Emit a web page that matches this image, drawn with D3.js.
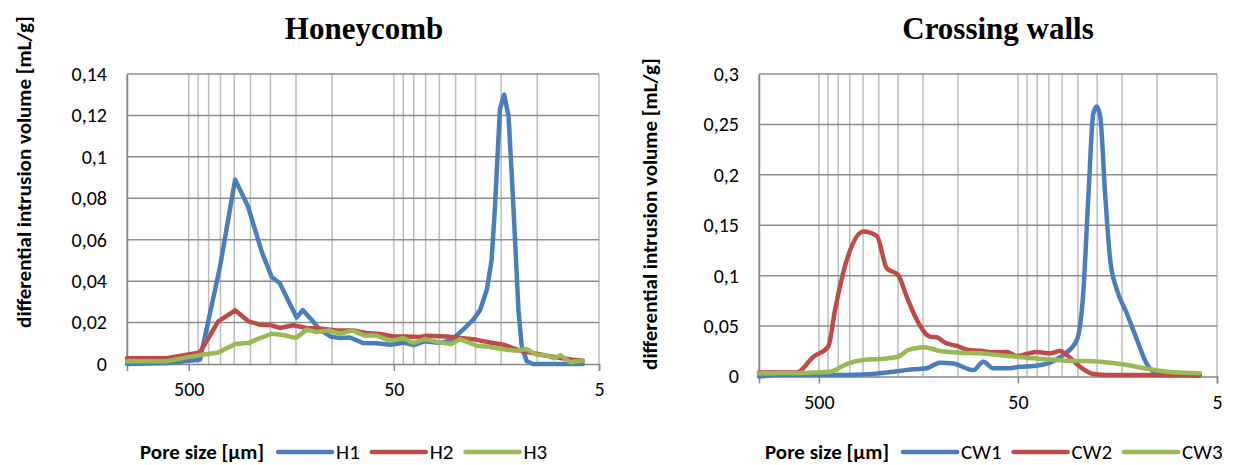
<!DOCTYPE html>
<html>
<head>
<meta charset="utf-8">
<script src="https://cdn.jsdelivr.net/npm/d3@7/dist/d3.min.js"></script>
<style>
  body { margin: 0; background: #fff; }
  svg { display: block; }
  text { font-family: Carlito, Calibri, Lato, sans-serif; fill: #000; }
  .title { font-family: "Liberation Serif", "Times New Roman", serif; font-weight: bold; }
</style>
</head>
<body>
<svg id="chart" width="1238" height="465"></svg>
<script>
// pore size [µm] vs differential intrusion volume [mL/g]
var poreTicks = [500, 50, 5];
var honeyTicks = [0, 0.02, 0.04, 0.06, 0.08, 0.1, 0.12, 0.14];
var crossTicks = [0, 0.05, 0.1, 0.15, 0.2, 0.25, 0.3];

var honeyNames = ['H1', 'H2', 'H3'];
var crossNames = ['CW1', 'CW2', 'CW3'];

var H1 = [[1000,0],[640,0.0005],[441,0.002],[352,0.047],[297,0.089],[257,0.076],[220,0.054],
  [197,0.042],[180,0.039],[149,0.0224],[139,0.026],[126,0.0214],[115,0.0166],[102,0.0133],
  [91.5,0.0125],[82,0.0128],[70.5,0.0101],[60.6,0.010],[52,0.0093],[45,0.0103],[40,0.0091],
  [35.3,0.011],[29.8,0.0101],[26.1,0.0117],[23,0.0166],[20.5,0.0214],[19,0.026],[17.6,0.036],
  [16.7,0.050],[16.1,0.0745],[15.2,0.123],[14.5,0.130],[13.8,0.1196],[13.3,0.0906],[12.8,0.058],
  [12.35,0.026],[11.9,0.0085],[11.25,0.0013],[10.5,0],[6,0]];
var H2 = [[1000,0.0028],[640,0.0028],[441,0.0056],[359,0.0206],[297,0.0259],[256,0.0206],
  [225,0.019],[197,0.0187],[180,0.0174],[155,0.0187],[133,0.0174],[115,0.0172],[95,0.0162],
  [79,0.0162],[68,0.015],[58.4,0.0145],[50.3,0.0133],[43.3,0.0133],[37.3,0.013],[34.6,0.0136],
  [27.6,0.0133],[23.8,0.0126],[20.5,0.012],[17,0.0104],[14.6,0.0093],[13.1,0.0077],[11.7,0.006],
  [10.5,0.0053],[9,0.004],[7.7,0.0029],[6.7,0.0021],[6,0.0016]];
var H3 = [[1000,0.0013],[640,0.0013],[512,0.0032],[441,0.0043],[359,0.0056],[297,0.0097],
  [256,0.0101],[225,0.0125],[197,0.0146],[173,0.014],[150,0.0125],[133,0.0166],[119,0.0154],
  [104,0.0162],[91.5,0.0146],[80,0.0162],[69,0.0137],[60.6,0.0137],[52.2,0.0112],[45,0.0125],
  [40.1,0.0101],[35.3,0.012],[29.8,0.0104],[26.1,0.0097],[23.8,0.012],[19.7,0.0088],[17,0.0082],
  [14.1,0.0069],[12.6,0.0064],[11.25,0.0072],[10.1,0.0045],[9,0.0042],[8.3,0.0028],[7.7,0.0042],
  [6.9,0.0008],[6,0.0017]];

var CW1 = [[1000,0],[784,0.0015],[440,0.0015],[299,0.002],[211,0.0048],[168,0.0071],[144,0.0081],
  [123,0.0137],[106,0.013],[83.7,0.0064],[74.6,0.0147],[66.5,0.0081],[56.9,0.0081],[48.8,0.0097],
  [41.8,0.0104],[34.5,0.0137],[29.6,0.0213],[25.3,0.0362],[23.5,0.0825],[22.1,0.1817],[20.9,0.261],
  [20.1,0.2677],[19.3,0.2577],[18.25,0.1817],[17.2,0.1156],[15.9,0.0858],[14.2,0.0627],[12.6,0.0362],
  [11.3,0.0131],[10.4,0.0048],[8.3,0.003],[6.1,0.0025]];
var CW2 = [[1000,0.004],[646,0.004],[533,0.0196],[449,0.0296],[415,0.066],[362,0.1156],[299,0.1437],
  [256,0.1394],[228,0.1073],[200,0.1007],[181,0.079],[161,0.056],[138,0.0395],[128,0.039],
  [116,0.0335],[101.5,0.0303],[88.8,0.0263],[77.5,0.0256],[66.5,0.024],[56.9,0.0243],[50.7,0.0203],
  [45.2,0.0223],[40.2,0.0243],[34.5,0.023],[30.7,0.0253],[28.4,0.0213],[24.4,0.0097],[20.9,0.0025],
  [17.9,0.0015],[13.2,0.0015],[8.9,0.0012],[6.1,0.001]];
var CW3 = [[1000,0.003],[784,0.0032],[440,0.0048],[356,0.0131],[299,0.0164],[247,0.0174],[200,0.0196],
  [178,0.0263],[149,0.029],[123,0.0253],[97.7,0.0236],[77.5,0.023],[61.5,0.021],[45.2,0.0187],
  [41.8,0.018],[28.4,0.0157],[19.3,0.0147],[14.2,0.0114],[10.8,0.0071],[8.3,0.0041],[6.1,0.0032]];

var colors = ['#4a7ebb', '#be4b48', '#98b954'];

var svg = d3.select('#chart');

// Excel style log gridlines: k * 5, k * 50, k * 500
var gridValues = [];
[5, 50, 500].forEach(function(b) {
  for (var k = 1; k < 10; k++) if (b * k <= 1000) gridValues.push(b * k);
});
gridValues.push(1000);

function commaFmt(v) { return String(+v.toFixed(3)).replace('.', ','); }

function drawChart(o) {
  var g = svg.append('g');
  var x = d3.scaleLog().domain([1000, 5]).range([o.left, o.right]);
  var y = d3.scaleLinear().domain([0, o.yTicks[o.yTicks.length - 1]]).range([o.bottom, o.top]);

  g.selectAll('.vgrid').data(gridValues).enter().append('line')
    .attr('x1', function(d) { return x(d); })
    .attr('x2', function(d) { return x(d); })
    .attr('y1', o.top).attr('y2', o.bottom)
    .attr('stroke', '#bdbdbd').attr('stroke-width', 1.5);

  g.selectAll('.hgrid').data(o.yTicks.slice(1)).enter().append('line')
    .attr('x1', o.left).attr('x2', o.right)
    .attr('y1', function(d) { return y(d); })
    .attr('y2', function(d) { return y(d); })
    .attr('stroke', '#8e8e8e').attr('stroke-width', 1.5);

  // y axis
  var ya = g.append('g').attr('transform', 'translate(' + o.left + ',0)')
    .call(d3.axisLeft(y).tickValues(o.yTicks).tickSize(0).tickPadding(20).tickFormat(commaFmt));
  ya.select('.domain').attr('stroke', '#868686').attr('stroke-width', 1.5);
  ya.selectAll('text').style('font-size', '20px');

  // x axis
  var xa = g.append('g').attr('transform', 'translate(0,' + o.bottom + ')')
    .call(d3.axisBottom(x).tickValues(poreTicks).tickSize(7).tickPadding(11).tickFormat(d3.format('d')));
  xa.select('.domain').attr('stroke', '#868686').attr('stroke-width', 1.5);
  xa.selectAll('line').attr('stroke', '#868686').attr('stroke-width', 1.5);
  xa.selectAll('text').style('font-size', '20px');

  var line = d3.line()
    .x(function(d) { return x(d[0]); })
    .y(function(d) { return y(d[1]); })
    .curve(o.smooth ? d3.curveMonotoneX : d3.curveLinear);

  o.series.forEach(function(s, i) {
    g.append('path').datum(s)
      .attr('d', line)
      .attr('fill', 'none')
      .attr('stroke', colors[i])
      .attr('stroke-width', 4.5)
      .attr('stroke-linejoin', 'round')
      .attr('stroke-linecap', 'round');
  });

  g.append('text').attr('class', 'title')
    .attr('x', o.titleX).attr('y', 39)
    .attr('text-anchor', 'middle')
    .style('font-size', '31px')
    .text(o.title);

  g.append('text')
    .attr('transform', 'translate(' + o.yTitleX + ',' + o.yTitleY + ') rotate(-90)')
    .attr('text-anchor', 'middle')
    .style('font-size', '21px')
    .style('font-weight', 'bold')
    .text('differential intrusion volume [mL/g]');

  // legend
  var ly = 459, cx = o.legendX;
  var lab = g.append('text').attr('x', cx).attr('y', ly)
    .style('font-size', '21px').style('font-weight', 'bold')
    .text('Pore size [µm]');
  cx += lab.node().getComputedTextLength() + 14;
  o.names.forEach(function(n, i) {
    g.append('line')
      .attr('x1', cx).attr('x2', cx + 54)
      .attr('y1', ly - 7).attr('y2', ly - 7)
      .attr('stroke', colors[i]).attr('stroke-width', 4.5)
      .attr('stroke-linecap', 'round');
    var t = g.append('text').attr('x', cx + 58).attr('y', ly)
      .style('font-size', '21px').text(n);
    cx += 58 + t.node().getComputedTextLength() + 12;
  });
}

drawChart({
  left: 127, right: 599, top: 74, bottom: 364,
  yTicks: honeyTicks, series: [H1, H2, H3], names: honeyNames,
  smooth: false, title: 'Honeycomb', titleX: 364,
  yTitleX: 31, yTitleY: 172, legendX: 140
});

drawChart({
  left: 759, right: 1217, top: 74, bottom: 376.5,
  yTicks: crossTicks, series: [CW1, CW2, CW3], names: crossNames,
  smooth: true, title: 'Crossing walls', titleX: 998,
  yTitleX: 657, yTitleY: 214, legendX: 765
});
</script>
</body>
</html>
